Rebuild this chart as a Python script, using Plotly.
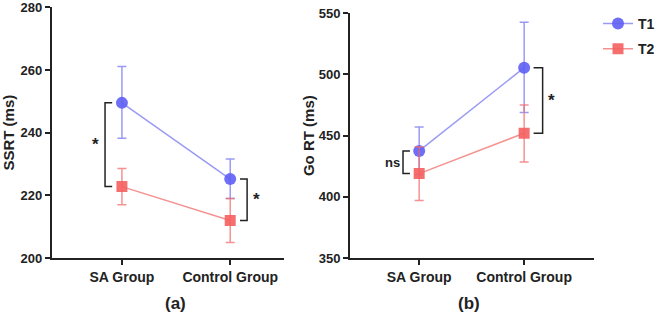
import plotly.graph_objects as go

# ---- data -----------------------------------------------------------------
groups = ["SA Group", "Control Group"]

ssrt_t1 = [249.5, 225.2]
ssrt_t1_up = [11.6, 6.4]
ssrt_t1_down = [11.3, 6.2]
ssrt_t2 = [222.8, 212.0]
ssrt_t2_err = [5.8, 7.0]

gort_t1 = [437.5, 505.5]
gort_t1_up = [19.5, 37.0]
gort_t1_down = [19.5, 36.5]
gort_t2 = [419.0, 452.0]
gort_t2_up = [22.0, 23.0]
gort_t2_down = [22.0, 23.5]

ssrt_ticks = [200, 220, 240, 260, 280]
gort_ticks = [350, 400, 450, 500, 550]

BLUE = "rgba(95,95,245,0.9)"
BLUE_LINE = "rgba(120,120,240,0.75)"
RED = "rgba(245,95,95,0.9)"
RED_LINE = "rgba(240,110,110,0.75)"
INK = "#222222"
FONT = "Liberation Sans, Arial, sans-serif"

xs = list(range(len(groups)))

fig = go.Figure()


def add_series(xa, ya, y, up, down, color, line_color, symbol, name, show):
    fig.add_trace(go.Scatter(
        x=xs, y=y, xaxis=xa, yaxis=ya, mode="lines+markers", name=name,
        showlegend=show, legendgroup=name,
        line=dict(color=line_color, width=1.5),
        marker=dict(color=color, size=12 if symbol == "circle" else 11,
                    symbol=symbol, line=dict(width=0)),
        error_y=dict(type="data", array=up, arrayminus=down, color=line_color,
                     thickness=1.5, width=4.5)))


add_series("x", "y", ssrt_t1, ssrt_t1_up, ssrt_t1_down, BLUE, BLUE_LINE, "circle", "T1", True)
add_series("x", "y", ssrt_t2, ssrt_t2_err, ssrt_t2_err, RED, RED_LINE, "square", "T2", True)
add_series("x2", "y2", gort_t1, gort_t1_up, gort_t1_down, BLUE, BLUE_LINE, "circle", "T1", False)
add_series("x2", "y2", gort_t2, gort_t2_up, gort_t2_down, RED, RED_LINE, "square", "T2", False)


# ---- significance brackets ----------------------------------------------------
def bracket(xref, yref, x_tip, x_bar, y0, y1, label, x_label, size):
    fig.add_shape(type="path", xref=xref, yref=yref,
                  path=f"M {x_tip} {y0} L {x_bar} {y0} L {x_bar} {y1} L {x_tip} {y1}",
                  line=dict(color=INK, width=1.5))
    fig.add_annotation(x=x_label, y=(y0 + y1) / 2, xref=xref, yref=yref, text=label,
                       showarrow=False, font=dict(family=FONT, size=size, color=INK,
                                                  weight="bold"))


bracket("x", "y", -0.09, -0.156, ssrt_t1[0], ssrt_t2[0], "*", -0.245, 17)
bracket("x", "y", 1.09, 1.156, ssrt_t1[1], ssrt_t2[1], "*", 1.245, 17)
bracket("x2", "y2", -0.088, -0.154, gort_t1[0], gort_t2[0], "ns", -0.255, 13)
bracket("x2", "y2", 1.09, 1.176, gort_t1[1], gort_t2[1], "*", 1.265, 17)

# ---- panel labels -----------------------------------------------------------
for x, text in [(0.268, "(a)"), (0.717, "(b)")]:
    fig.add_annotation(x=x, y=0.035, xref="paper", yref="paper", text=text,
                       xanchor="center", yanchor="middle", showarrow=False,
                       font=dict(family=FONT, size=17, color=INK, weight="bold"))

axis_common = dict(showline=True, linecolor=INK, linewidth=1.5, ticks="outside",
                   ticklen=5, tickwidth=1.5, tickcolor=INK, showgrid=False,
                   zeroline=False, automargin=False, ticklabeloverflow="allow",
                   tickfont=dict(family=FONT, size=13, color=INK, weight="bold"))
title_font = dict(family=FONT, size=15, color=INK, weight="bold")

fig.update_layout(
    width=660, height=314, plot_bgcolor="white", paper_bgcolor="white",
    margin=dict(l=0, r=0, t=0, b=0),
    xaxis=dict(domain=[0.0788, 0.4348], range=[-0.65, 1.5], tickvals=xs,
               ticktext=groups, anchor="y", **axis_common),
    yaxis=dict(domain=[0.178, 0.977], range=[200, 280], tickvals=ssrt_ticks,
               anchor="x", title=dict(text="SSRT (ms)", font=title_font, standoff=4),
               **axis_common),
    xaxis2=dict(domain=[0.535, 0.909], range=[-0.66, 1.67], tickvals=xs,
                ticktext=groups, anchor="y2", **axis_common),
    yaxis2=dict(domain=[0.178, 0.958], range=[350, 550], tickvals=gort_ticks,
                anchor="x2", title=dict(text="Go RT (ms)", font=title_font, standoff=1),
                **axis_common),
    legend=dict(x=0.915, y=0.975, xanchor="left", yanchor="top",
                font=dict(family=FONT, size=14, color=INK, weight="bold"),
                itemwidth=30, tracegroupgap=4, bgcolor="rgba(0,0,0,0)"),
)

fig.update_xaxes(tickfont=dict(size=14))

fig.write_html("out.html", config={"displayModeBar": False},
               post_script="document.body.style.margin='0px';")
